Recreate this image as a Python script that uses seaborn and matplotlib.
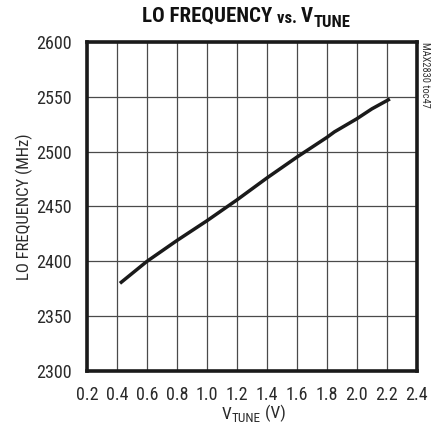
import matplotlib
matplotlib.use("Agg")
import matplotlib.pyplot as plt
from matplotlib import font_manager
import seaborn as sns
import pandas as pd

# Tuning curve: LO frequency versus tuning voltage
v_tune = [0.42, 0.6, 0.8, 1.0, 1.2, 1.4, 1.6, 1.8, 1.85, 1.9, 2.0, 2.1, 2.22]
lo_freq = [2380, 2400, 2419, 2437, 2456, 2476, 2495, 2513, 2518, 2522, 2530, 2539, 2548]

x_ticks = [0.2, 0.4, 0.6, 0.8, 1.0, 1.2, 1.4, 1.6, 1.8, 2.0, 2.2, 2.4]
y_ticks = [2300, 2350, 2400, 2450, 2500, 2550, 2600]

sns.set_theme(style="white")
names = {f.name for f in font_manager.fontManager.ttflist}
fams = [n for n in ("Liberation Sans Narrow", "DejaVu Sans Condensed",
                    "Roboto Condensed", "Open Sans Condensed") if n in names]
plt.rcParams["font.family"] = fams + ["Liberation Sans", "DejaVu Sans"]

df = pd.DataFrame({"v": v_tune, "f": lo_freq})

fig = plt.figure(figsize=(4.37, 4.32), dpi=100)
ax = fig.add_axes([0.199, 0.141, 0.755, 0.762])

sns.lineplot(data=df, x="v", y="f", ax=ax, color="#1a1a1a", linewidth=2.5,
             solid_capstyle="butt", sort=False)

ax.set_xlim(0.2, 2.4)
ax.set_ylim(2300, 2600)
ax.set_xticks(x_ticks)
ax.set_yticks(y_ticks)
ax.set_xticklabels([f"{t:.1f}" for t in x_ticks])
ax.set_yticklabels([str(t) for t in y_ticks])
ax.grid(True, color="#4a4a4a", linewidth=0.9)
ax.tick_params(axis="x", length=0, labelsize=13, colors="#2a2a2a", pad=11)
ax.tick_params(axis="y", length=0, labelsize=13, colors="#2a2a2a", pad=11)
for s in ax.spines.values():
    s.set_visible(True)
    s.set_color("#1a1a1a")
    s.set_linewidth(2.6)
ax.set_xlabel("")
ax.set_ylabel("LO FREQUENCY (MHz)", fontsize=12, color="#2a2a2a")
ax.yaxis.set_label_coords(-0.164, 0.5)

# x-axis label with subscript
t1 = fig.text(0.508, 0.030, "V", fontsize=12.5, color="#2a2a2a", ha="left")
t2 = ax.annotate("TUNE", xy=(1, 0), xycoords=t1, xytext=(0, -2),
                 textcoords="offset points", fontsize=9.5, color="#2a2a2a",
                 va="bottom", ha="left")
ax.annotate(" (V)", xy=(1, 0), xycoords=t2, xytext=(0, 2),
            textcoords="offset points", fontsize=12.5, color="#2a2a2a",
            va="bottom", ha="left")

# Title with subscript
h1 = fig.text(0.326, 0.949, "LO FREQUENCY ", fontsize=15, fontweight="bold",
              color="#111111")
h2 = ax.annotate("vs. ", xy=(1, 0), xycoords=h1, xytext=(0, 0),
                 textcoords="offset points", fontsize=12, fontweight="bold",
                 color="#111111", va="bottom", ha="left")
h3 = ax.annotate("V", xy=(1, 0), xycoords=h2, xytext=(0, 0),
                 textcoords="offset points", fontsize=15, fontweight="bold",
                 color="#111111", va="bottom", ha="left")
ax.annotate("TUNE", xy=(1, 0), xycoords=h3, xytext=(0, -2.5),
            textcoords="offset points", fontsize=12, fontweight="bold",
            color="#111111", va="bottom", ha="left")

fig.text(0.973, 0.902, "MAX2830 toc47", rotation=270, fontsize=7.5,
         color="#333333", va="top", ha="center")

fig.savefig("out.png", dpi=100)
